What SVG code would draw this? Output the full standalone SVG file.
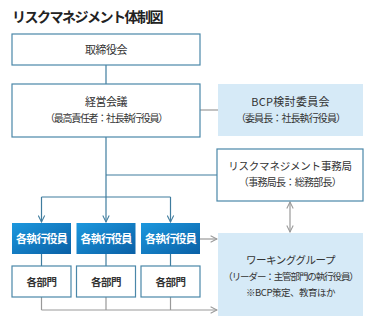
<svg xmlns="http://www.w3.org/2000/svg" width="375" height="328" viewBox="0 0 375 328">
<defs>
<linearGradient id="exg" x1="0" y1="0" x2="1" y2="1">
<stop offset="0" stop-color="#1c98de"/>
<stop offset="1" stop-color="#0a60a6"/>
</linearGradient>
<marker id="ab" viewBox="0 0 10 10" refX="9" refY="5" markerWidth="8" markerHeight="8" orient="auto" markerUnits="userSpaceOnUse">
<path d="M1,1 L9,5 L1,9" fill="none" stroke="#3f7c9e" stroke-width="1.3"/>
</marker>
<marker id="ag" viewBox="0 0 10 10" refX="9" refY="5" markerWidth="8" markerHeight="8" orient="auto-start-reverse" markerUnits="userSpaceOnUse">
<path d="M1,1 L9,5 L1,9" fill="none" stroke="#999" stroke-width="1.3"/>
</marker>
</defs>
<style>
text{font-family:"Noto Sans CJK JP","Noto Sans CJK SC",sans-serif;fill:#333;text-anchor:middle}
.t{font-size:14px;font-weight:bold;text-anchor:start;fill:#222;letter-spacing:-1.5px}
.m{font-size:11px;letter-spacing:-0.5px}
.s{font-size:10px;letter-spacing:-0.9px}
.b{font-size:11px;font-weight:bold;fill:#fff;letter-spacing:-0.8px}
.d{font-size:10.5px;font-weight:bold;letter-spacing:-0.5px}
.bx{fill:#fff;stroke:#4a87a8;stroke-width:1.2}
.lb{fill:#d6eaf7}
.ex{fill:url(#exg)}
.cb{fill:none;stroke:#3f7c9e;stroke-width:1.2}
.cg{fill:none;stroke:#999;stroke-width:1.2}
</style>
<text class="t" x="12" y="22">リスクマネジメント体制図</text>
<g id="connectors">
<path class="cb" d="M106,65 V84"/>
<path class="cb" d="M106,137 V197"/>
<path class="cb" d="M106,175 H217"/>
<path class="cg" d="M200,110 H218"/>
<path class="cb" d="M41.5,197 H170.5"/>
<path class="cb" d="M41.5,197 V222" marker-end="url(#ab)"/>
<path class="cb" d="M106,197 V222" marker-end="url(#ab)"/>
<path class="cb" d="M170.5,197 V222" marker-end="url(#ab)"/>
<path class="cb" d="M41.5,254 V266 M106,254 V266 M170.5,254 V266"/>
<path class="cg" d="M41.5,297 V310 M106,297 V310 M170.5,297 V310"/>
<path class="cg" d="M41.5,310 H217" marker-end="url(#ag)"/>
<path class="cg" d="M200,239 H217" marker-end="url(#ag)"/>
<path class="cg" d="M290,202 V232" marker-start="url(#ag)" marker-end="url(#ag)"/>
</g>
<g id="board">
<rect class="bx" x="12" y="34" width="188" height="31"/>
<text class="m" x="106" y="53.5">取締役会</text>
</g>
<g id="mgmt">
<rect class="bx" x="12" y="84" width="188" height="53"/>
<text class="m" x="106" y="106">経営会議</text>
<text class="s" x="106" y="122" style="letter-spacing:-1.3px">（最高責任者：社長執行役員）</text>
</g>
<g id="bcp">
<rect class="lb" x="218" y="84" width="145" height="52"/>
<text class="m" x="290.5" y="106" style="letter-spacing:0.3px">BCP検討委員会</text>
<text class="s" x="290.5" y="122">（委員長：社長執行役員）</text>
</g>
<g id="riskoffice">
<rect class="bx" x="217" y="149" width="146" height="52"/>
<text class="m" x="290" y="170" style="font-size:10.5px;letter-spacing:-0.2px">リスクマネジメント事務局</text>
<text class="s" x="290" y="186" style="letter-spacing:-0.7px">（事務局長：総務部長）</text>
</g>
<g id="exec1">
<rect class="ex" x="12" y="223" width="59" height="31"/>
<text class="b" x="41.5" y="243">各執行役員</text>
</g>
<g id="exec2">
<rect class="ex" x="76.5" y="223" width="59" height="31"/>
<text class="b" x="106" y="243">各執行役員</text>
</g>
<g id="exec3">
<rect class="ex" x="141" y="223" width="59" height="31"/>
<text class="b" x="170.5" y="243">各執行役員</text>
</g>
<g id="dept1">
<rect class="bx" x="12" y="266" width="59" height="31"/>
<text class="d" x="41.5" y="285.5">各部門</text>
</g>
<g id="dept2">
<rect class="bx" x="76.5" y="266" width="59" height="31"/>
<text class="d" x="106" y="285.5">各部門</text>
</g>
<g id="dept3">
<rect class="bx" x="141" y="266" width="59" height="31"/>
<text class="d" x="170.5" y="285.5">各部門</text>
</g>
<g id="wg">
<rect class="lb" x="218" y="233" width="145" height="83"/>
<text class="m" x="290.5" y="264" style="font-size:10.5px">ワーキンググループ</text>
<text class="s" x="290.5" y="280" style="font-size:9.5px;letter-spacing:-1.1px">（リーダー：主管部門の執行役員）</text>
<text class="s" x="290.5" y="296" style="font-size:9.5px;letter-spacing:-0.5px">※BCP策定、教育ほか</text>
</g>
</svg>
